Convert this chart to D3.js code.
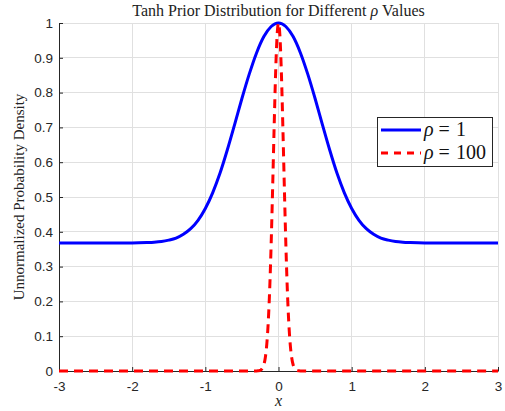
<!DOCTYPE html>
<html>
<head>
<meta charset="utf-8">
<script src="https://cdn.jsdelivr.net/npm/d3@7"></script>
<style>
  html, body { margin: 0; padding: 0; background: #fff; }
  svg { display: block; }
</style>
</head>
<body>
<svg id="chart" width="505" height="411"></svg>
<script>
// Sample positions and densities for the two curves
const xTicks = [-3, -2, -1, 0, 1, 2, 3];
const yTicks = [0, 0.1, 0.2, 0.3, 0.4, 0.5, 0.6, 0.7, 0.8, 0.9, 1];

const rho1X = [-3, -2.5, -2, -1.8, -1.7, -1.6, -1.5, -1.4, -1.3, -1.2, -1.1, -1,
  -0.9, -0.8, -0.7, -0.6, -0.5, -0.4, -0.3, -0.2, -0.1, 0,
  0.1, 0.2, 0.3, 0.4, 0.5, 0.6, 0.7, 0.8, 0.9, 1, 1.1, 1.2, 1.3, 1.4, 1.5, 1.6, 1.7, 1.8,
  2, 2.5, 3];
const rho1Y = [0.368, 0.368, 0.368, 0.369, 0.370, 0.372, 0.376, 0.382, 0.393, 0.409, 0.433, 0.467,
  0.512, 0.568, 0.635, 0.708, 0.783, 0.853, 0.914, 0.961, 0.990, 1,
  0.990, 0.961, 0.914, 0.853, 0.783, 0.708, 0.635, 0.568, 0.512, 0.467, 0.433, 0.409, 0.393, 0.382, 0.376, 0.372, 0.370, 0.369,
  0.368, 0.368, 0.368];

const rho100X = [-3, -2, -1, -0.5, -0.3, -0.28, -0.26, -0.24, -0.22, -0.2, -0.18, -0.16, -0.14, -0.12, -0.1,
  -0.08, -0.06, -0.04, -0.02, 0, 0.02, 0.04, 0.06, 0.08, 0.1, 0.12, 0.14, 0.16, 0.18, 0.2,
  0.22, 0.24, 0.26, 0.28, 0.3, 0.5, 1, 2, 3];
const rho100Y = [0, 0, 0, 0, 0.0001, 0.0004, 0.0012, 0.0031, 0.0079, 0.018, 0.039, 0.077, 0.141, 0.237, 0.368,
  0.527, 0.698, 0.852, 0.961, 1, 0.961, 0.852, 0.698, 0.527, 0.368, 0.237, 0.141, 0.077, 0.039, 0.018,
  0.0079, 0.0031, 0.0012, 0.0004, 0.0001, 0, 0, 0, 0];

const seriesLabels = ["1", "100"];

const svg = d3.select("#chart");
const plotL = 59, plotR = 498, plotT = 23, plotB = 371;
const axisColor = "#262626";
const gridColor = "#e0e0e0";
const sans = "'Liberation Sans', Arial, sans-serif";
const serif = "'Liberation Serif', 'Times New Roman', serif";

const x = d3.scaleLinear().domain([-3, 3]).range([plotL, plotR]);
const y = d3.scaleLinear().domain([0, 1]).range([plotB, plotT]);

// grid
const grid = svg.append("g");
grid.selectAll("line.gx").data(xTicks).join("line")
  .attr("x1", d => x(d)).attr("x2", d => x(d))
  .attr("y1", plotT).attr("y2", plotB)
  .attr("stroke", gridColor).attr("stroke-width", 1)
  .attr("shape-rendering", "crispEdges");
grid.selectAll("line.gy").data(yTicks).join("line")
  .attr("x1", plotL).attr("x2", plotR)
  .attr("y1", d => y(d)).attr("y2", d => y(d))
  .attr("stroke", gridColor).attr("stroke-width", 1)
  .attr("shape-rendering", "crispEdges");

// axes (ticks pointing inward)
const xAxis = d3.axisBottom(x).tickValues(xTicks).tickSizeInner(-4).tickSizeOuter(0).tickPadding(10)
  .tickFormat(d => String(d));
const yAxis = d3.axisLeft(y).tickValues(yTicks).tickSizeInner(-4).tickSizeOuter(0).tickPadding(6)
  .tickFormat(d => d === 0 ? "0" : d === 1 ? "1" : d3.format(".1f")(d));

const gx = svg.append("g").attr("transform", `translate(0,${plotB})`).call(xAxis);
const gy = svg.append("g").attr("transform", `translate(${plotL},0)`).call(yAxis);
[gx, gy].forEach(g => {
  g.select(".domain").attr("stroke", axisColor).attr("stroke-width", 1);
  g.selectAll(".tick line").attr("stroke", axisColor).attr("stroke-width", 1);
  g.selectAll(".tick text").attr("fill", axisColor)
    .style("font-family", sans).style("font-size", "13.5px");
});

// curves
const line = d3.line().x(d => x(d[0])).y(d => y(d[1])).curve(d3.curveMonotoneX);
const blueData = rho1X.map((v, i) => [v, rho1Y[i]]);
const redData = rho100X.map((v, i) => [v, rho100Y[i]]);

svg.append("path").datum(blueData).attr("d", line)
  .attr("fill", "none").attr("stroke", "#0000ff").attr("stroke-width", 3)
  .attr("stroke-linejoin", "round");
svg.append("path").datum(redData).attr("d", line)
  .attr("fill", "none").attr("stroke", "#ff0000").attr("stroke-width", 3)
  .attr("stroke-dasharray", "9,6");

// title
const title = svg.append("text")
  .attr("x", (plotL + plotR) / 2).attr("y", 16)
  .attr("text-anchor", "middle")
  .style("font-family", serif).style("font-size", "16px").attr("fill", "#222");
title.append("tspan").text("Tanh Prior Distribution for Different ");
title.append("tspan").style("font-style", "italic").text("ρ");
title.append("tspan").text(" Values");

// axis labels
svg.append("text")
  .attr("x", (plotL + plotR) / 2).attr("y", 406)
  .attr("text-anchor", "middle")
  .style("font-family", serif).style("font-style", "italic").style("font-size", "16px")
  .attr("fill", "#222").text("x");

svg.append("text")
  .attr("transform", `translate(24,${(plotT + plotB) / 2}) rotate(-90)`)
  .attr("text-anchor", "middle")
  .style("font-family", serif).style("font-size", "15px")
  .attr("fill", "#222").text("Unnormalized Probability Density");

// legend
const legend = svg.append("g");
legend.append("rect")
  .attr("x", 377.5).attr("y", 117.5).attr("width", 115).attr("height", 49)
  .attr("fill", "#fff").attr("stroke", axisColor).attr("stroke-width", 1);
const rows = [
  { color: "#0000ff", dash: null, label: seriesLabels[0], yy: 130 },
  { color: "#ff0000", dash: "7,6", label: seriesLabels[1], yy: 153 }
];
rows.forEach(r => {
  legend.append("line")
    .attr("x1", 381).attr("x2", 421).attr("y1", r.yy).attr("y2", r.yy)
    .attr("stroke", r.color).attr("stroke-width", 3)
    .attr("stroke-dasharray", r.dash);
  const t = legend.append("text")
    .attr("x", 424).attr("y", r.yy + 6)
    .style("font-family", serif).style("font-size", "20px").attr("fill", "#111");
  t.append("tspan").style("font-style", "italic").text("ρ");
  t.append("tspan").attr("dx", 5).text("=");
  t.append("tspan").attr("dx", 6).text(r.label);
});
</script>
</body>
</html>
